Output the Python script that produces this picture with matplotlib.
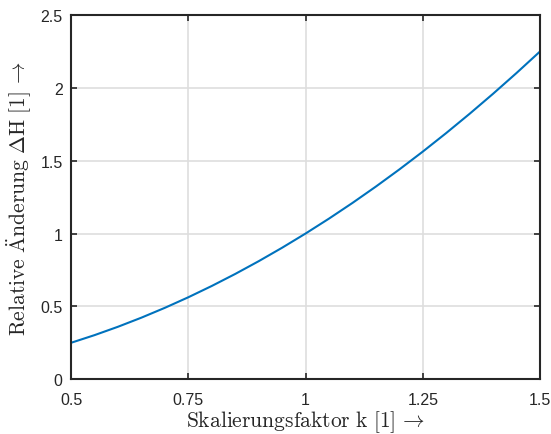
import numpy as np
import matplotlib.pyplot as plt

plt.rcParams['mathtext.fontset'] = 'cm'
plt.rcParams['font.family'] = ['Liberation Sans', 'DejaVu Sans']

# Skalierungsfaktor k und relative Aenderung dH
k = [0.5, 0.55, 0.6, 0.65, 0.7, 0.75, 0.8, 0.85, 0.9, 0.95, 1.0,
     1.05, 1.1, 1.15, 1.2, 1.25, 1.3, 1.35, 1.4, 1.45, 1.5]
dH = [0.25, 0.3025, 0.36, 0.4225, 0.49, 0.5625, 0.64, 0.7225, 0.81, 0.9025, 1.0,
      1.1025, 1.21, 1.3225, 1.44, 1.5625, 1.69, 1.8225, 1.96, 2.1025, 2.25]

xticks = [0.5, 0.75, 1, 1.25, 1.5]
xticklabels = ['0.5', '0.75', '1', '1.25', '1.5']
yticks = [0, 0.5, 1, 1.5, 2, 2.5]
yticklabels = ['0', '0.5', '1', '1.5', '2', '2.5']

fig = plt.figure(figsize=(5.51, 4.35), dpi=100)
ax = fig.add_axes([0.129, 0.126, 0.851, 0.837])
ax.plot(k, dH, color='#0072BD', linewidth=1.5)

ax.set_xlim(0.5, 1.5)
ax.set_ylim(0, 2.5)
ax.set_xticks(xticks)
ax.set_xticklabels(xticklabels)
ax.set_yticks(yticks)
ax.set_yticklabels(yticklabels)
ax.grid(True, color='#dedede', linewidth=1.2)
ax.set_axisbelow(True)
ax.tick_params(direction='in', top=True, right=True, length=4, width=1.2,
               labelsize=11.5, colors='#262626')
ax.tick_params(axis='x', pad=9)
ax.tick_params(axis='y', pad=6)
for s in ax.spines.values():
    s.set_linewidth(1.5)
    s.set_color('#262626')

ax.set_xlabel(r'$\mathrm{Skalierungsfaktor\ k\ [1]}\,\rightarrow$', fontsize=15.5, color='#262626', labelpad=1)
ax.set_ylabel(r'$\mathrm{Relative\ \ddot{A}nderung\ \Delta H\ [1]}\,\rightarrow$', fontsize=15.5, color='#262626', labelpad=5)

fig.savefig('out.png', dpi=100)
